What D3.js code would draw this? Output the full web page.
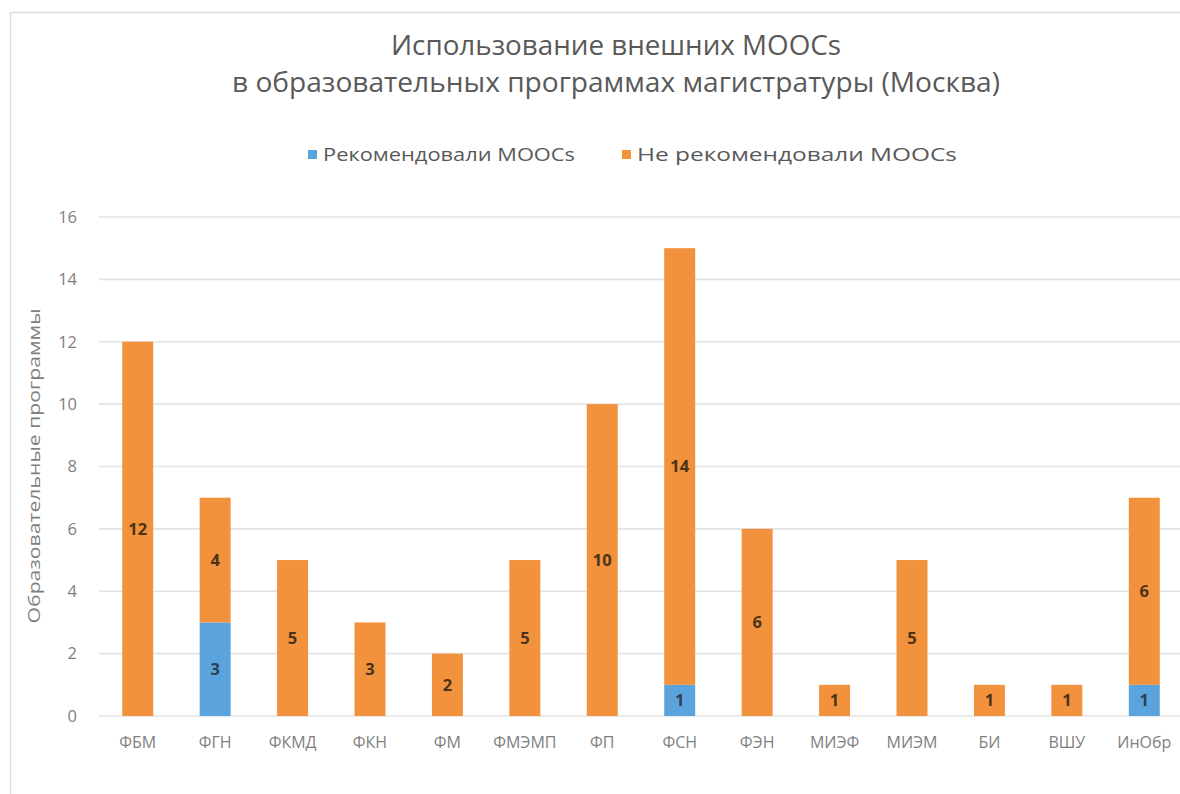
<!DOCTYPE html>
<html>
<head>
<meta charset="utf-8">
<script src="https://cdn.jsdelivr.net/npm/d3@7"></script>
<style>
  html, body { margin: 0; padding: 0; background: #fff; }
  svg { display: block; font-family: "Open Sans", "Noto Sans", sans-serif; }
</style>
</head>
<body>
<svg id="chart" width="1180" height="794"></svg>
<script>
const categories = ["ФБМ", "ФГН", "ФКМД", "ФКН", "ФМ", "ФМЭМП", "ФП", "ФСН", "ФЭН", "МИЭФ", "МИЭМ", "БИ", "ВШУ", "ИнОбр"];
const recommended = [0, 3, 0, 0, 0, 0, 0, 1, 0, 0, 0, 0, 0, 1];
const notRecommended = [12, 4, 5, 3, 2, 5, 10, 14, 6, 1, 5, 1, 1, 6];
const yTicks = [0, 2, 4, 6, 8, 10, 12, 14, 16];
const seriesNames = ["Рекомендовали MOOCs", "Не рекомендовали MOOCs"];
const colors = ["#5ba3dc", "#f2923c"];

const svg = d3.select("#chart");

// outer frame of the chart area
svg.append("rect")
  .attr("x", 10.5).attr("y", 12.5)
  .attr("width", 1200).attr("height", 800)
  .attr("fill", "#fff").attr("stroke", "#dcdcdc").attr("stroke-width", 1.5);

const x = d3.scaleBand().domain(categories).range([99, 1183]).paddingInner(0.6).paddingOuter(0.3);
const y = d3.scaleLinear().domain([0, 16]).range([716, 217]);

// gridlines
svg.append("g")
  .selectAll("line")
  .data(yTicks)
  .join("line")
  .attr("x1", 99).attr("x2", 1180)
  .attr("y1", d => y(d)).attr("y2", d => y(d))
  .attr("stroke", "#e3e3e3").attr("stroke-width", 1.6);

// y axis tick labels
const yAxis = svg.append("g")
  .attr("transform", "translate(77,0)")
  .call(d3.axisLeft(y).tickValues(yTicks).tickSize(0).tickPadding(0));
yAxis.select(".domain").remove();
yAxis.selectAll("text")
  .attr("font-size", 16.5).attr("fill", "#7f7f7f")
  .attr("font-family", "'Open Sans', sans-serif");

// x axis labels
const xAxis = svg.append("g")
  .attr("transform", "translate(0,716)")
  .call(d3.axisBottom(x).tickSize(0).tickPadding(21));
xAxis.select(".domain").remove();
xAxis.selectAll("text")
  .attr("font-size", 16).attr("fill", "#7f7f7f")
  .attr("font-family", "'Open Sans', sans-serif");

// stacked data
const rows = categories.map((c, i) => ({ cat: c, rec: recommended[i], not: notRecommended[i] }));
const stack = d3.stack().keys(["rec", "not"])(rows);

const layers = svg.append("g")
  .selectAll("g")
  .data(stack)
  .join("g")
  .attr("fill", (d, i) => colors[i]);

layers.selectAll("rect")
  .data(d => d)
  .join("rect")
  .attr("x", d => x(d.data.cat))
  .attr("width", x.bandwidth())
  .attr("y", d => y(d[1]))
  .attr("height", d => y(d[0]) - y(d[1]));

// value labels
const labels = svg.append("g");
stack.forEach((layer, li) => {
  labels.selectAll(null)
    .data(layer.filter(d => d[1] - d[0] > 0))
    .join("text")
    .attr("x", d => x(d.data.cat) + x.bandwidth() / 2)
    .attr("y", d => y((d[0] + d[1]) / 2))
    .attr("dy", "0.36em")
    .attr("text-anchor", "middle")
    .attr("font-size", 16.5).attr("font-weight", "bold")
    .attr("fill", li === 0 ? "#2f3f50" : "#4a3418")
    .text(d => d[1] - d[0]);
});

// y axis title
svg.append("text")
  .attr("transform", "translate(40,466) rotate(-90)")
  .attr("text-anchor", "middle")
  .attr("font-size", 17).attr("fill", "#7f7f7f")
  .attr("textLength", 315).attr("lengthAdjust", "spacingAndGlyphs")
  .text("Образовательные программы");

// title
const titleLines = [
  { t: "Использование внешних MOOCs", y: 55, w: 450 },
  { t: "в образовательных программах магистратуры (Москва)", y: 92, w: 768 }
];
svg.append("g")
  .selectAll("text")
  .data(titleLines)
  .join("text")
  .attr("x", 616).attr("y", d => d.y)
  .attr("text-anchor", "middle")
  .attr("font-size", 27).attr("fill", "#595959")
  .attr("textLength", d => d.w).attr("lengthAdjust", "spacingAndGlyphs")
  .text(d => d.t);

// legend
const legendItems = [
  { name: seriesNames[0], color: colors[0], x: 308, w: 252 },
  { name: seriesNames[1], color: colors[1], x: 622, w: 320 }
];
const lg = svg.append("g")
  .selectAll("g")
  .data(legendItems)
  .join("g")
  .attr("transform", d => `translate(${d.x},150)`);
lg.append("rect")
  .attr("width", 9).attr("height", 9)
  .attr("fill", d => d.color);
lg.append("text")
  .attr("x", 15).attr("y", 4.5).attr("dy", "0.36em")
  .attr("font-size", 18.5).attr("fill", "#595959")
  .attr("textLength", d => d.w).attr("lengthAdjust", "spacingAndGlyphs")
  .text(d => d.name);
</script>
</body>
</html>
